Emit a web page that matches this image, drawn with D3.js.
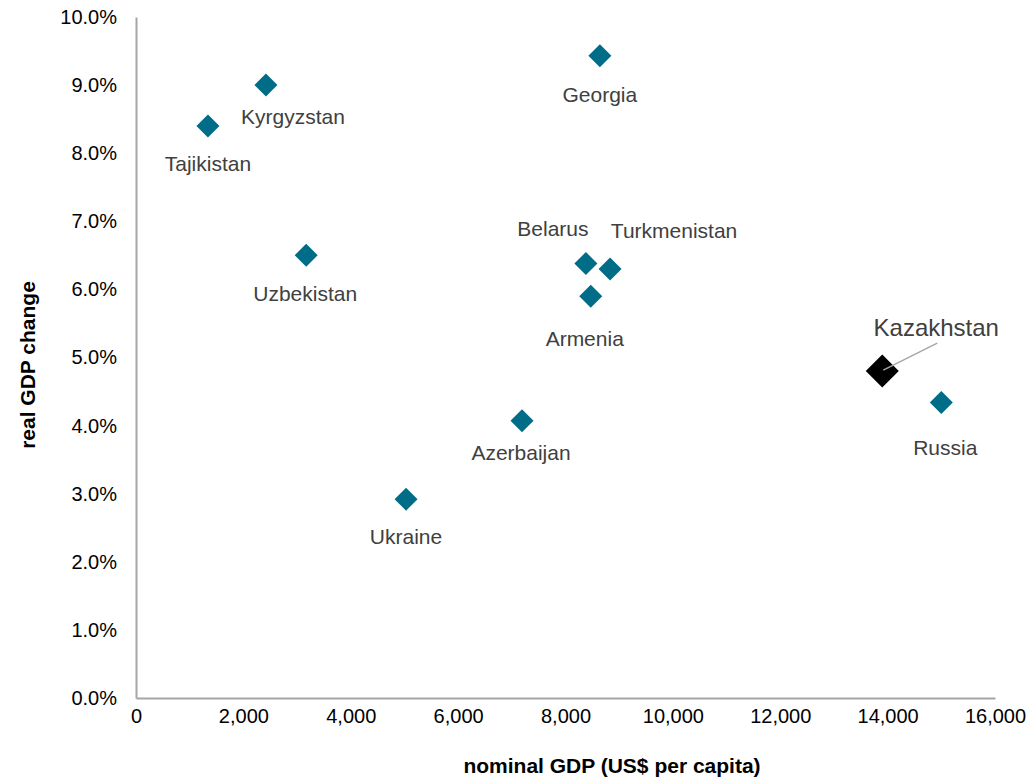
<!DOCTYPE html>
<html>
<head>
<meta charset="utf-8">
<script src="https://cdn.jsdelivr.net/npm/d3@7"></script>
<style>
  html, body { margin: 0; padding: 0; background: #fff; }
  svg { display: block; font-family: "Liberation Sans", Arial, sans-serif; }
</style>
</head>
<body>
<svg id="chart" width="1030" height="777"></svg>
<script>
// Countries and their values
const countries = ["Georgia", "Kyrgyzstan", "Tajikistan", "Uzbekistan", "Belarus", "Turkmenistan",
                   "Armenia", "Kazakhstan", "Russia", "Azerbaijan", "Ukraine"];
const nominalGdp = [8640, 2420, 1340, 3170, 8380, 8830, 8470, 13900, 15000, 7190, 5030];
const realGdpChange = [0.0943, 0.090, 0.084, 0.0650, 0.0638, 0.0630, 0.0590, 0.0480, 0.0434, 0.0407, 0.0292];
const highlighted = "Kazakhstan";

const xTicks = [0, 2000, 4000, 6000, 8000, 10000, 12000, 14000, 16000];
const yTicks = [0, 0.01, 0.02, 0.03, 0.04, 0.05, 0.06, 0.07, 0.08, 0.09, 0.10];

// Label placement relative to each marker (layout only)
const labelOffset = {
  Georgia: [0, 39], Kyrgyzstan: [27, 32], Tajikistan: [0, 38], Uzbekistan: [-1, 38],
  Belarus: [-33, -35], Turkmenistan: [64, -38], Armenia: [-6, 42], Kazakhstan: [54, -44],
  Russia: [4, 45], Azerbaijan: [-1, 32], Ukraine: [0, 38]
};

const svg = d3.select("#chart");
const x = d3.scaleLinear().domain([0, 16000]).range([136, 995]);
const y = d3.scaleLinear().domain([0, 0.10]).range([698, 17]);

const axisColor = "#a6a6a6";
const tickSize = 20;
const labelSize = 21;

// Axes
const gx = svg.append("g").attr("transform", `translate(0,${y(0)})`)
  .call(d3.axisBottom(x).tickValues(xTicks).tickSize(0).tickPadding(18)
    .tickFormat(d3.format(",")));
const gy = svg.append("g").attr("transform", `translate(${x(0)},0)`)
  .call(d3.axisLeft(y).tickValues(yTicks).tickSize(0).tickPadding(19)
    .tickFormat(d3.format(".1%")));
[gx, gy].forEach(g => {
  g.select(".domain").attr("stroke", axisColor).attr("stroke-width", 2);
  g.selectAll("text").attr("font-size", tickSize).attr("fill", "#000")
    .attr("font-family", "'Liberation Sans', Arial, sans-serif");
});
gx.selectAll("text").attr("dy", "0.35em");

// Axis titles
svg.append("text").attr("x", 612).attr("y", 773).attr("text-anchor", "middle")
  .attr("font-size", labelSize).attr("font-weight", "bold").text("nominal GDP (US$ per capita)");
svg.append("text").attr("transform", "translate(35,365) rotate(-90)").attr("text-anchor", "middle")
  .attr("font-size", labelSize).attr("font-weight", "bold").text("real GDP change");

const data = countries.map((c, i) => ({ name: c, gdp: nominalGdp[i], growth: realGdpChange[i] }));

// Diamond markers
const diamond = s => `M0,${-s}L${s},0L0,${s}L${-s},0Z`;
svg.append("g").selectAll("path").data(data).join("path")
  .attr("transform", d => `translate(${x(d.gdp)},${y(d.growth)})`)
  .attr("d", d => diamond(d.name === highlighted ? 16.5 : 11.5))
  .attr("fill", d => d.name === highlighted ? "#000" : "#006d88");

// Leader line for the highlighted country, drawn over its marker
const hl = data.find(d => d.name === highlighted);
svg.append("line")
  .attr("x1", x(hl.gdp) + 1).attr("y1", y(hl.growth) - 1)
  .attr("x2", x(hl.gdp) + 55).attr("y2", y(hl.growth) - 28)
  .attr("stroke", "#a6a6a6").attr("stroke-width", 1.5);

// Country labels
svg.append("g").selectAll("text").data(data).join("text")
  .attr("x", d => x(d.gdp) + labelOffset[d.name][0])
  .attr("y", d => y(d.growth) + labelOffset[d.name][1])
  .attr("dy", "0.35em")
  .attr("text-anchor", "middle")
  .attr("font-size", d => d.name === highlighted ? 24 : labelSize)
  .attr("fill", "#404040")
  .text(d => d.name);
</script>
</body>
</html>
